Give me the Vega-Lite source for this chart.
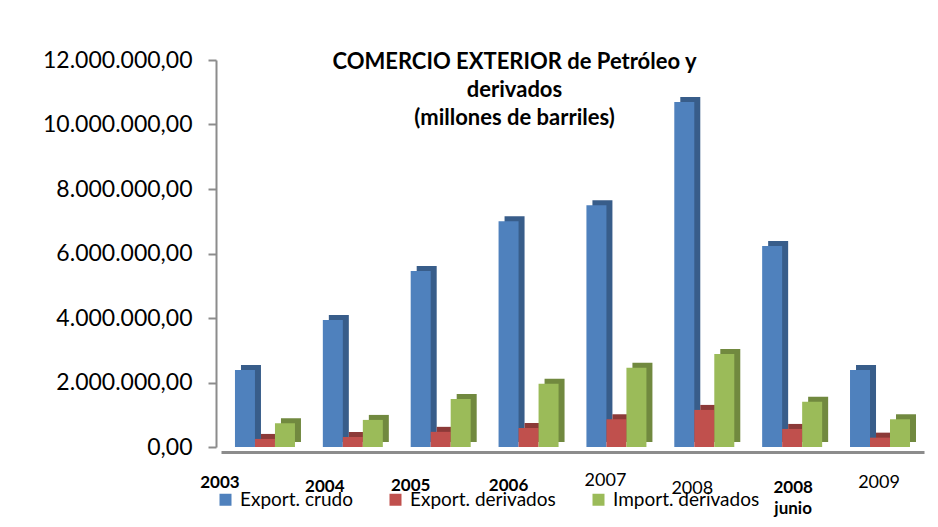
{
  "$schema": "https://vega.github.io/schema/vega-lite/v6.json",
  "width": 703,
  "height": 387,
  "autosize": {"type": "none"},
  "padding": {"left": 221, "top": 60, "right": 14, "bottom": 80},
  "background": "white",
  "config": {
    "locale": {"number": {"decimal": ",", "thousands": ".", "grouping": [3], "currency": ["", ""]}},
    "view": {"stroke": null},
    "font": "Lato"
  },
  "title": {
    "text": ["COMERCIO EXTERIOR de Petróleo y", "derivados", "(millones de barriles)"],
    "anchor": "middle",
    "frame": "group",
    "font": "Lato",
    "fontSize": 22,
    "fontWeight": "bold",
    "color": "#000000",
    "lineHeight": 28,
    "offset": 0,
    "dx": -58,
    "dy": 81
  },
  "data": {
    "values": [
      {"year": "2003", "series": "Export. crudo", "value": 2390000},
      {"year": "2003", "series": "Export. derivados", "value": 250000},
      {"year": "2003", "series": "Import. derivados", "value": 740000},
      {"year": "2004", "series": "Export. crudo", "value": 3940000},
      {"year": "2004", "series": "Export. derivados", "value": 310000},
      {"year": "2004", "series": "Import. derivados", "value": 840000},
      {"year": "2005", "series": "Export. crudo", "value": 5460000},
      {"year": "2005", "series": "Export. derivados", "value": 470000},
      {"year": "2005", "series": "Import. derivados", "value": 1490000},
      {"year": "2006", "series": "Export. crudo", "value": 7000000},
      {"year": "2006", "series": "Export. derivados", "value": 590000},
      {"year": "2006", "series": "Import. derivados", "value": 1960000},
      {"year": "2007", "series": "Export. crudo", "value": 7500000},
      {"year": "2007", "series": "Export. derivados", "value": 860000},
      {"year": "2007", "series": "Import. derivados", "value": 2460000},
      {"year": "2008", "series": "Export. crudo", "value": 10700000},
      {"year": "2008", "series": "Export. derivados", "value": 1150000},
      {"year": "2008", "series": "Import. derivados", "value": 2880000},
      {"year": "2008 junio", "series": "Export. crudo", "value": 6230000},
      {"year": "2008 junio", "series": "Export. derivados", "value": 560000},
      {"year": "2008 junio", "series": "Import. derivados", "value": 1400000},
      {"year": "2009", "series": "Export. crudo", "value": 2390000},
      {"year": "2009", "series": "Export. derivados", "value": 290000},
      {"year": "2009", "series": "Import. derivados", "value": 860000}
    ]
  },
  "encoding": {
    "x": {
      "field": "year",
      "type": "nominal",
      "sort": null,
      "scale": {"paddingInner": 0.317, "paddingOuter": 0.159},
      "axis": {
        "title": null,
        "offset": 5,
        "domainColor": "#8c8c8c",
        "domainWidth": 3,
        "ticks": false,
        "tickSize": 0,
        "labelAngle": 0,
        "labelBaseline": "top",
        "labelFont": "Lato",
        "labelColor": "#000000",
        "labelOverlap": false,
        "labelFlush": false,
        "labelLineHeight": 21,
        "labelExpr": "datum.value == '2008 junio' ? ['2008', 'junio'] : datum.value",
        "labelFontWeight": {"condition": {"test": "datum.value == '2007' || datum.value == '2008' || datum.value == '2009'", "value": "normal"}, "value": "bold"},
        "labelFontSize": {"condition": {"test": "datum.value == '2007' || datum.value == '2008' || datum.value == '2009'", "value": 18}, "value": 17},
        "labelOffset": {"condition": [
          {"test": "datum.value == '2003'", "value": -45},
          {"test": "datum.value == '2004'", "value": -28},
          {"test": "datum.value == '2005'", "value": -30},
          {"test": "datum.value == '2006'", "value": -20},
          {"test": "datum.value == '2007'", "value": -11},
          {"test": "datum.value == '2008'", "value": -12},
          {"test": "datum.value == '2008 junio'", "value": 1}
        ], "value": -1},
        "labelPadding": {"condition": [
          {"test": "datum.value == '2003'", "value": 22},
          {"test": "datum.value == '2004'", "value": 26},
          {"test": "datum.value == '2005'", "value": 25},
          {"test": "datum.value == '2006'", "value": 25},
          {"test": "datum.value == '2007'", "value": 19},
          {"test": "datum.value == '2008'", "value": 27},
          {"test": "datum.value == '2008 junio'", "value": 27}
        ], "value": 21}
      }
    },
    "y": {
      "field": "value",
      "type": "quantitative",
      "scale": {"domain": [0, 12000000], "nice": false},
      "axis": {
        "title": null,
        "offset": 5,
        "grid": false,
        "values": [0, 2000000, 4000000, 6000000, 8000000, 10000000, 12000000],
        "format": ",.2f",
        "domainColor": "#8c8c8c",
        "domainWidth": 2,
        "tickColor": "#8c8c8c",
        "tickWidth": 2,
        "tickSize": 8,
        "labelPadding": 16,
        "labelFont": "Lato",
        "labelFontSize": 23,
        "labelColor": "#000000"
      }
    }
  },
  "layer": [
    {
      "mark": {"type": "bar", "yOffset": -5, "y2Offset": -5},
      "encoding": {
        "xOffset": {
          "field": "series",
          "type": "nominal",
          "sort": ["Export. crudo", "Export. derivados", "Import. derivados"],
          "scale": {"paddingInner": 0, "paddingOuter": 0, "range": [6, 66]}
        },
        "color": {
          "field": "series",
          "type": "nominal",
          "scale": {"domain": ["Export. crudo", "Export. derivados", "Import. derivados"], "range": ["#385D8A", "#8C3A38", "#71893F"]},
          "legend": null
        }
      }
    },
    {
      "mark": {"type": "bar"},
      "encoding": {
        "xOffset": {
          "field": "series",
          "type": "nominal",
          "sort": ["Export. crudo", "Export. derivados", "Import. derivados"],
          "scale": {"paddingInner": 0, "paddingOuter": 0, "range": [0, 60]}
        },
        "color": {
          "field": "series",
          "type": "nominal",
          "scale": {"domain": ["Export. crudo", "Export. derivados", "Import. derivados"], "range": ["#4F81BD", "#C0504D", "#9BBB59"]},
          "legend": {
            "title": null,
            "orient": "none",
            "legendX": -5,
            "legendY": 430,
            "direction": "horizontal",
            "symbolType": "square",
            "symbolSize": 144,
            "symbolStrokeWidth": 0,
            "labelFont": "Lato",
            "labelFontSize": 19,
            "labelColor": "#000000",
            "labelOffset": 5,
            "columnPadding": 33,
            "padding": 0
          }
        }
      }
    }
  ],
  "resolve": {"scale": {"color": "independent", "xOffset": "independent"}}
}
